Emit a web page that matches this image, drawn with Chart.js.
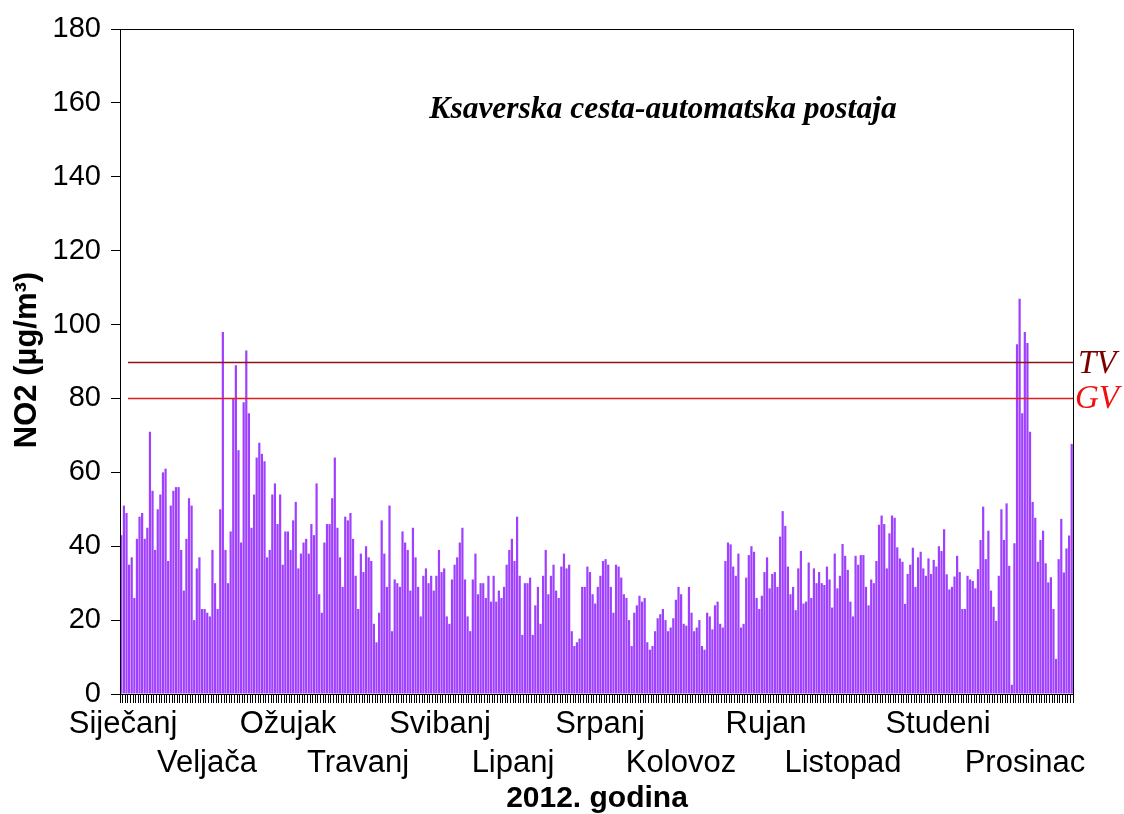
<!DOCTYPE html>
<html>
<head>
<meta charset="utf-8">
<script src="https://cdn.jsdelivr.net/npm/chart.js@4.4.0/dist/chart.umd.min.js"></script>
<style>
    html, body { margin: 0; padding: 0; background: #fff; }
    #wrap { width: 1124px; height: 814px; }
</style>
</head>
<body>
<div id="wrap"><canvas id="no2-chart" width="1124" height="814"></canvas></div>
<script>
// daily NO2 means, 2012 (µg/m3), one array per month
var jan = [43, 51, 49, 35, 37, 26, 42, 48, 49, 42, 45, 71, 55, 39, 50, 54, 60, 61, 36, 51, 55, 56, 56, 39, 28, 42, 53, 51, 20, 34, 37];
var feb = [23, 23, 22, 21, 39, 30, 23, 50, 98, 39, 30, 44, 80, 89, 66, 41, 79, 93, 76, 45, 54, 64, 68, 65, 63, 37, 39, 54, 57];
var mar = [46, 54, 35, 44, 44, 39, 47, 52, 34, 38, 41, 42, 38, 46, 43, 57, 27, 22, 41, 46, 46, 53, 64, 45, 37, 29, 48, 47, 49, 42, 32];
var apr = [23, 38, 33, 40, 37, 36, 19, 14, 22, 47, 38, 29, 51, 17, 31, 30, 29, 44, 41, 39, 28, 45, 37, 29, 21, 32, 34, 30, 32, 28];
var may = [32, 39, 33, 34, 21, 19, 31, 35, 37, 41, 45, 31, 21, 17, 31, 38, 27, 30, 30, 26, 32, 25, 32, 25, 28, 26, 29, 35, 39, 42, 36];
var jun = [48, 32, 16, 30, 30, 31.5, 16, 24, 29, 19, 32, 39, 27, 32, 35, 28, 26, 34.5, 38, 34, 35, 17, 13, 14, 15, 29, 29, 34.5, 33, 27];
var jul = [24.5, 29, 32, 36, 36.5, 35, 29, 22, 35, 34.5, 31.5, 27, 26, 20, 13, 22, 24, 26.6, 25, 26, 14, 12, 13, 17, 20.5, 21.6, 23, 20, 17, 18, 20.5];
var aug = [25.5, 29, 27, 19, 18.5, 29, 22, 17, 18, 20, 13, 12, 22, 21, 17.5, 24, 25, 19, 18, 36, 41, 40.5, 34.5, 32, 38, 18, 19, 31.5, 37.6, 40, 38.5];
var sep = [26, 23, 26.6, 33, 37, 28.6, 32.5, 33, 29, 42.6, 49.5, 45.5, 34.5, 27, 29, 22.7, 34, 38.7, 24.5, 25, 35.6, 26, 34, 30, 33, 30, 29.5, 34.5, 31, 23.4];
var oct = [38, 28.6, 32, 40.6, 37.4, 33.6, 25, 21, 37.4, 35, 37.6, 37.6, 29, 24, 31, 30, 36, 45.8, 48.3, 46, 34, 43.5, 48.3, 47.7, 39.7, 36.7, 35.8, 24.4, 32.5, 35, 39.6];
var nov = [29, 37, 38.5, 34, 32, 36.7, 32.5, 36.3, 34.5, 40, 38.7, 44.6, 32.4, 28.3, 29, 31.8, 37.4, 33, 23, 23, 32, 31, 30.6, 28.6, 33.8, 41.7, 50.7, 36.5, 44.2, 28];
var dec = [23.6, 19.8, 32, 50, 41.7, 51.6, 34.7, 2.5, 40.8, 94.7, 107, 76, 98, 95, 71, 52, 47.7, 35.8, 41.7, 44.2, 35.4, 30.2, 31.6, 23, 9.5, 36.5, 47.4, 32.9, 39.4, 42.9, 67.7];

var monthNames = ['Siječanj', 'Veljača', 'Ožujak', 'Travanj', 'Svibanj', 'Lipanj',
    'Srpanj', 'Kolovoz', 'Rujan', 'Listopad', 'Studeni', 'Prosinac'];
var yTicks = [0, 20, 40, 60, 80, 100, 120, 140, 160, 180];

var limitTV = 90;
var limitGV = 80;

var chartTitle = 'Ksaverska cesta-automatska postaja';
var yTitle = 'NO2 (µg/m³)';
var xTitle = '2012. godina';

var months = [jan, feb, mar, apr, may, jun, jul, aug, sep, oct, nov, dec];
var values = [];
var days = [];
months.forEach(function (m, mi) {
    m.forEach(function (v, di) {
        values.push(v);
        days.push((di + 1) + '.' + (mi + 1) + '.');
    });
});

var SANS = '"Liberation Sans", Arial, sans-serif';
var SERIF = '"Liberation Serif", "Times New Roman", serif';

// label centres as drawn in the original, measured from the left edge of the plot
var monthLabelOffset = [3, 87, 168, 238, 320, 393, 480, 561, 646, 723, 818, 905];

var decorations = {
    id: 'decorations',
    afterDatasetsDraw: function (chart) {
        var ctx = chart.ctx;
        var area = chart.chartArea;
        var y = chart.scales.y;

        ctx.save();
        ctx.lineWidth = 1.5;
        ctx.strokeStyle = '#8b1515';
        var yTV = Math.round(y.getPixelForValue(limitTV)) + 0.5;
        ctx.beginPath();
        ctx.moveTo(area.left + 8, yTV);
        ctx.lineTo(area.right, yTV);
        ctx.stroke();

        ctx.strokeStyle = '#e02020';
        var yGV = Math.round(y.getPixelForValue(limitGV)) + 0.5;
        ctx.beginPath();
        ctx.moveTo(area.left + 8, yGV);
        ctx.lineTo(area.right, yGV);
        ctx.stroke();
        ctx.restore();
    },
    afterDraw: function (chart) {
        var ctx = chart.ctx;
        var area = chart.chartArea;
        var y = chart.scales.y;

        ctx.save();
        // frame
        ctx.strokeStyle = '#000';
        ctx.lineWidth = 1;
        ctx.strokeRect(area.left + 0.5, area.top + 0.5, area.right - area.left, area.bottom - area.top);

        // limit labels
        ctx.textAlign = 'left';
        ctx.textBaseline = 'middle';
        ctx.font = 'italic 33px ' + SERIF;
        ctx.fillStyle = '#7a0000';
        ctx.fillText('TV', area.right + 5, y.getPixelForValue(limitTV) + 3);
        ctx.fillStyle = '#ee1111';
        ctx.fillText('GV', area.right + 2, y.getPixelForValue(limitGV) + 1);

        // title inside plot
        ctx.fillStyle = '#000';
        ctx.textAlign = 'center';
        ctx.font = 'italic bold 31.5px ' + SERIF;
        ctx.fillText(chartTitle, 663, 110);

        // month labels in two staggered rows
        ctx.font = '31px ' + SANS;
        monthNames.forEach(function (name, i) {
            var x = area.left + monthLabelOffset[i];
            var row = i % 2 === 0 ? area.bottom + 30 : area.bottom + 69;
            ctx.fillText(name, x, row);
        });

        // axis titles
        ctx.font = 'bold 30px ' + SANS;
        ctx.fillText(xTitle, 597, 799);

        ctx.font = 'bold 31px ' + SANS;
        ctx.translate(27, 360);
        ctx.rotate(-Math.PI / 2);
        ctx.fillText(yTitle, 0, 0);
        ctx.restore();
    }
};

new Chart(document.getElementById('no2-chart'), {
    type: 'bar',
    data: {
        labels: days,
        datasets: [{
            data: values,
            backgroundColor: '#a040ff',
            borderWidth: 0,
            barPercentage: 0.85,
            categoryPercentage: 1.0
        }]
    },
    options: {
        responsive: false,
        animation: false,
        layout: { padding: { left: 0, right: 51, top: 29, bottom: 0 } },
        plugins: {
            legend: { display: false },
            tooltip: { enabled: false },
            title: { display: false }
        },
        scales: {
            x: {
                grid: { drawOnChartArea: false, drawTicks: true, tickLength: 9, color: '#000', offset: true },
                border: { color: '#000' },
                ticks: { display: false, autoSkip: false },
                afterFit: function (scale) { scale.height = 120; }
            },
            y: {
                min: 0,
                max: 180,
                grid: { drawOnChartArea: false, tickLength: 9, color: '#000' },
                border: { color: '#000' },
                ticks: {
                    stepSize: 10,
                    padding: 10,
                    color: '#000',
                    font: { family: SANS, size: 29 },
                    callback: function (v) { return yTicks.indexOf(v) >= 0 ? v : ''; }
                },
                afterFit: function (scale) { scale.width = 120; }
            }
        }
    },
    plugins: [decorations]
});
</script>
</body>
</html>
